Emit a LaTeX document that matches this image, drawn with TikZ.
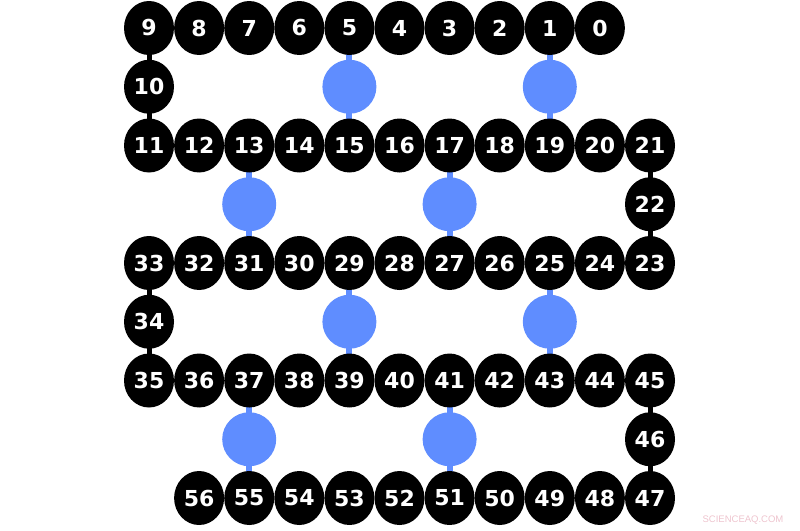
\documentclass[tikz,border=0pt]{standalone}
\usepackage{fontspec}
\setmainfont{DejaVu Sans}
\newfontfamily\wmfont{Liberation Sans}
\usetikzlibrary{shapes.geometric}
\definecolor{qblue}{RGB}{95,141,255}
\definecolor{wmpink}{RGB}{238,196,206}
\tikzset{
  qubit/.style={ellipse, fill=black, minimum width=50pt, minimum height=54pt, inner sep=0pt,
    text=white, font=\fontsize{22}{22}\selectfont\bfseries},
  coupler/.style={circle, fill=qblue, minimum size=54pt, inner sep=0pt},
  blink/.style={line width=5pt, draw=black},
  clink/.style={line width=6pt, draw=qblue},
}
\begin{document}
\begin{tikzpicture}[x=1pt,y=-1pt]
\useasboundingbox (0,0) rectangle (800,530);
\def\cx#1{149+50.1*#1}
\def\ry#1{28+58.75*#1}
% links behind nodes
\begin{scope}[on background layer/.try]
\end{scope}
% row 0: 9..0
\foreach \n [count=\i from 0] in {9,8,7,6,5,4,3,2,1,0}
  \coordinate (p\n) at ({\cx{\i}},{\ry{0}});
\coordinate (p10) at ({\cx{0}},{\ry{1}});
\coordinate (b1) at ({\cx{4}},{\ry{1}});
\coordinate (b2) at ({\cx{8}},{\ry{1}});
\foreach \n [count=\i from 0] in {11,12,13,14,15,16,17,18,19,20,21}
  \coordinate (p\n) at ({\cx{\i}},{\ry{2}});
\coordinate (b3) at ({\cx{2}},{\ry{3}});
\coordinate (b4) at ({\cx{6}},{\ry{3}});
\coordinate (p22) at ({\cx{10}},{\ry{3}});
\foreach \n [count=\i from 0] in {33,32,31,30,29,28,27,26,25,24,23}
  \coordinate (p\n) at ({\cx{\i}},{\ry{4}});
\coordinate (p34) at ({\cx{0}},{\ry{5}});
\coordinate (b5) at ({\cx{4}},{\ry{5}});
\coordinate (b6) at ({\cx{8}},{\ry{5}});
\foreach \n [count=\i from 0] in {35,36,37,38,39,40,41,42,43,44,45}
  \coordinate (p\n) at ({\cx{\i}},{\ry{6}});
\coordinate (b7) at ({\cx{2}},{\ry{7}});
\coordinate (b8) at ({\cx{6}},{\ry{7}});
\coordinate (p46) at ({\cx{10}},{\ry{7}});
\foreach \n [count=\i from 1] in {56,55,54,53,52,51,50,49,48,47}
  \coordinate (p\n) at ({\cx{\i}},{\ry{8}});
% links
\foreach \a/\b in {9/10,10/11,21/22,22/23,33/34,34/35,45/46,46/47}
  \draw[blink] (p\a) -- (p\b);
\foreach \a/\c/\b in {5/b1/15,1/b2/19,13/b3/31,17/b4/27,29/b5/39,25/b6/43,37/b7/55,41/b8/51}
  \draw[clink] (p\a) -- (\c) -- (p\b);
% couplers
\foreach \c in {b1,b2,b3,b4,b5,b6,b7,b8}
  \node[coupler] (n\c) at (\c) {};
% qubits
\foreach \n in {0,...,56}
  \node[qubit] (q\n) at (p\n) {\n};
\node[font=\wmfont\fontsize{9.5}{10}\selectfont, text=wmpink, inner sep=0pt] (wm) at (743,520) {SCIENCEAQ.COM};
\end{tikzpicture}
\end{document}
